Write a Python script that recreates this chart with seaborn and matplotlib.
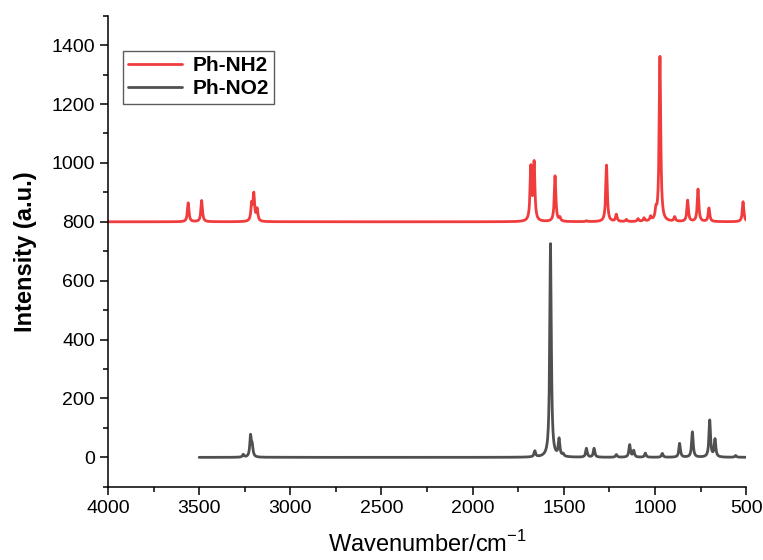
import numpy as np
import pandas as pd
import matplotlib
matplotlib.use("Agg")
import matplotlib.pyplot as plt
import seaborn as sns
from matplotlib.ticker import MultipleLocator

# peak positions (cm-1) and heights (a.u.)
nh2_centers = [3560, 3486, 3212, 3200, 3182, 1681, 1663, 1548, 1522, 1376,
               1266, 1212, 1157, 1093, 1060, 1024, 995, 973, 892, 821,
               764, 704, 517]
nh2_heights = [64, 72, 55, 90, 40, 180, 195, 155, 12, 3,
               192, 24, 7, 9, 11, 14, 30, 560, 15, 72,
               110, 46, 68]
nh2_offset = 800

no2_centers = [3258, 3218, 3209, 1659, 1573, 1526, 1504, 1376, 1334, 1212,
               1139, 1117, 1053, 960, 865, 795, 700, 671, 558]
no2_heights = [9, 70, 35, 20, 725, 58, 8, 30, 30, 9,
               42, 22, 14, 13, 47, 86, 125, 60, 6]

nh2_range = (500, 4000)
no2_range = (500, 3500)
fwhm = 10.0


def broaden(centers, heights, lo, hi, step=0.5):
    x = np.arange(lo, hi + step, step)
    y = np.zeros_like(x)
    g = fwhm / 2
    for c, h in zip(centers, heights):
        y += h * g**2 / ((x - c) ** 2 + g**2)
    return x, y


x1, y1 = broaden(nh2_centers, nh2_heights, *nh2_range)
x2, y2 = broaden(no2_centers, no2_heights, *no2_range)
df1 = pd.DataFrame({"wn": x1, "I": y1 + nh2_offset})
df2 = pd.DataFrame({"wn": x2, "I": y2})

sns.set_style("ticks")
plt.rcParams["font.family"] = ["Liberation Sans", "DejaVu Sans"]
plt.rcParams["mathtext.fontset"] = "custom"
plt.rcParams["mathtext.rm"] = "Liberation Sans"
plt.rcParams["text.color"] = "black"
plt.rcParams["axes.labelcolor"] = "black"
plt.rcParams["xtick.color"] = "black"
plt.rcParams["ytick.color"] = "black"

fig = plt.figure(figsize=(7.63, 5.6), dpi=100)
ax = fig.add_axes([0.1415, 0.1307, 0.8365, 0.8413])

sns.lineplot(data=df1, x="wn", y="I", ax=ax, color="#F03C3C", lw=2.0,
             label="Ph-NH2", sort=False, estimator=None)
sns.lineplot(data=df2, x="wn", y="I", ax=ax, color="#505050", lw=2.0,
             label="Ph-NO2", sort=False, estimator=None)

ax.set_xlim(4000, 500)
ax.set_ylim(-100, 1500)
ax.xaxis.set_major_locator(MultipleLocator(500))
ax.xaxis.set_minor_locator(MultipleLocator(250))
ax.yaxis.set_major_locator(MultipleLocator(200))
ax.yaxis.set_minor_locator(MultipleLocator(100))
ax.tick_params(which="major", direction="out", length=6, width=1.1,
               labelsize=14, color="black", labelcolor="black")
ax.tick_params(which="minor", direction="out", length=3.5, width=1.1,
               color="black")
for s in ("left", "bottom"):
    ax.spines[s].set_linewidth(1.1)
    ax.spines[s].set_color("black")
sns.despine(ax=ax)

ax.set_xlabel("Wavenumber/cm$^{\\mathrm{-1}}$", fontsize=17, labelpad=10)
ax.set_ylabel("Intensity (a.u.)", fontsize=17, fontweight="bold", labelpad=10)

leg = ax.legend(loc="upper left", bbox_to_anchor=(0.023, 0.925),
                borderaxespad=0, fancybox=False, edgecolor="#333333",
                prop={"weight": "bold", "size": 15}, handlelength=2.6,
                handletextpad=0.5, borderpad=0.25, labelspacing=0.2)
leg.get_frame().set_linewidth(1.0)
for line in leg.get_lines():
    line.set_linewidth(2.0)

fig.savefig("out.png", dpi=100)
